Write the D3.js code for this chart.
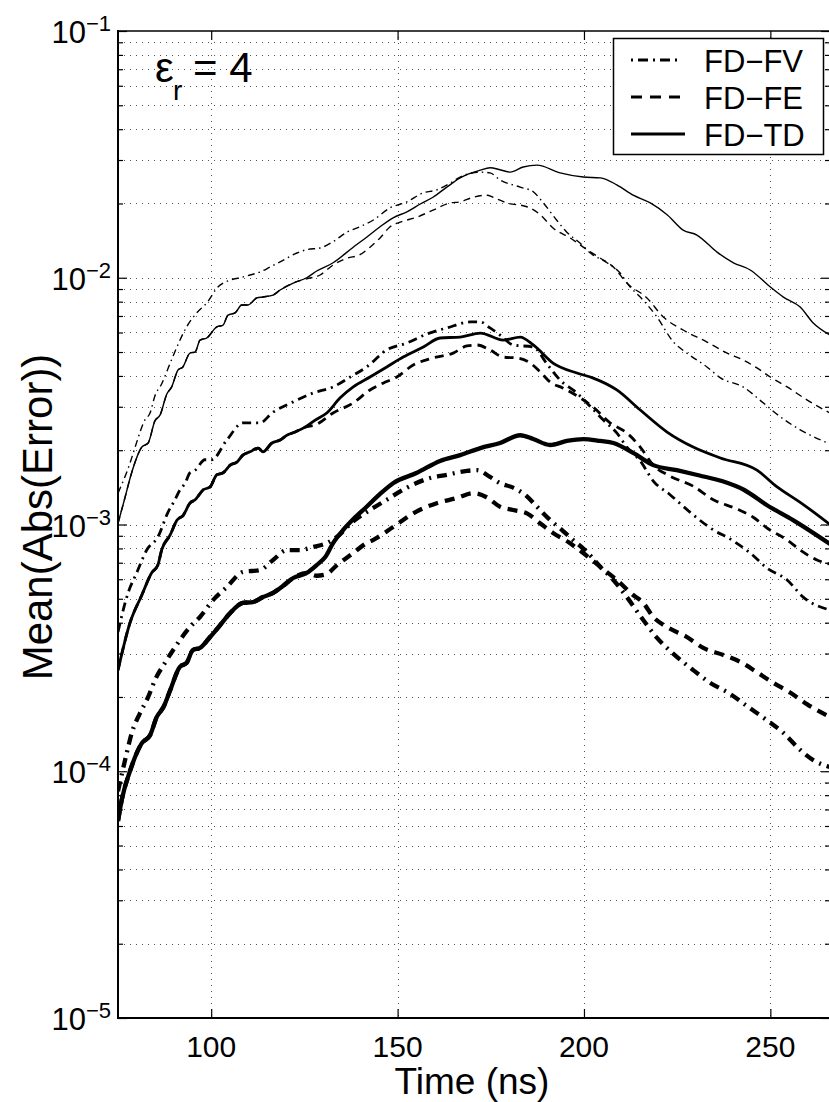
<!DOCTYPE html>
<html><head><meta charset="utf-8">
<script src="https://cdn.jsdelivr.net/npm/d3@7"></script>
<style>
body{margin:0;background:#fff;overflow:hidden;}
svg{display:block;}
text{font-family:"Liberation Sans",Arial,Helvetica,sans-serif;fill:#000;}
</style>
</head><body>
<svg id="chart" width="829" height="1102"></svg>
<script>
// ---------- data ----------
const xTicks = [100, 150, 200, 250];
const yMajor = [1e-5, 1e-4, 1e-3, 1e-2, 1e-1];
const yExpLabels = ["\u22125", "\u22124", "\u22123", "\u22122", "\u22121"];
const legendLabels = ["FD\u2212FV", "FD\u2212FE", "FD\u2212TD"];
const xLabel = "Time (ns)";
const yLabel = "Mean(Abs(Error))";

// thin group
const thinFV = [[75,1.34e-3],[78.2,1.77e-3],[79.6,2.06e-3],[82.2,2.65e-3],[83.6,2.83e-3],[84.9,3.32e-3],[86.7,3.71e-3],[89.0,4.51e-3],[90.8,5.24e-3],[93.4,6.32e-3],[96.1,7.2e-3],[98.8,7.9e-3],[101.8,9.17e-3],[105.1,9.79e-3],[107.7,1.0e-2],[110.4,1.026e-2],[113.1,1.055e-2],[115.8,1.105e-2],[118.5,1.16e-2],[123.0,1.26e-2],[125.6,1.30e-2],[129.2,1.32e-2],[132.7,1.40e-2],[136.4,1.53e-2],[139.9,1.61e-2],[143.4,1.71e-2],[148.0,1.92e-2],[152.5,2.03e-2],[156.9,2.21e-2],[160.5,2.27e-2],[164.1,2.42e-2],[166.8,2.56e-2],[172.2,2.68e-2],[174.8,2.66e-2],[177.5,2.49e-2],[182.9,2.33e-2],[186.4,2.23e-2],[189.1,2.01e-2],[192.7,1.71e-2],[195.4,1.53e-2],[199.0,1.38e-2],[201.7,1.26e-2],[206.2,1.15e-2],[209.7,1.045e-2],[212.4,9.17e-3],[215.1,8.35e-3],[219.6,6.93e-3],[224.0,5.49e-3],[227.6,4.95e-3],[233.0,4.35e-3],[236.6,3.93e-3],[242.7,3.61e-3],[248.1,3.11e-3],[252.7,2.73e-3],[258.0,2.42e-3],[266,2.12e-3]];
const thinFE = [[75,1.01e-3],[76.9,1.29e-3],[78.5,1.59e-3],[81.4,2.06e-3],[83.1,2.14e-3],[84.9,2.63e-3],[86.3,2.78e-3],[88.1,3.38e-3],[89.4,3.61e-3],[91.1,4.23e-3],[92.4,4.35e-3],[94.3,4.95e-3],[95.7,5.0e-3],[97.0,5.59e-3],[98.8,5.70e-3],[101.5,6.32e-3],[103.2,6.43e-3],[104.5,7.06e-3],[106.4,7.2e-3],[108.2,7.76e-3],[109.9,7.76e-3],[112.2,8.28e-3],[113.9,8.36e-3],[116.6,8.51e-3],[118.5,8.92e-3],[122.0,9.52e-3],[125.6,9.9e-3],[129.2,1.026e-2],[132.7,1.126e-2],[136.4,1.20e-2],[139.9,1.24e-2],[142.6,1.33e-2],[145.3,1.45e-2],[148.0,1.61e-2],[150.7,1.68e-2],[155.2,1.76e-2],[159.5,1.88e-2],[164.1,2.01e-2],[166.8,2.03e-2],[170.3,2.12e-2],[174.0,2.16e-2],[175.6,2.12e-2],[179.3,2.01e-2],[184.7,1.94e-2],[188.3,1.80e-2],[191.7,1.59e-2],[196.3,1.45e-2],[200.8,1.30e-2],[204.4,1.20e-2],[207.9,1.105e-2],[211.5,9.52e-3],[216.9,8.28e-3],[221.3,6.93e-3],[226.6,6.14e-3],[233.0,5.49e-3],[238.4,4.95e-3],[242.7,4.64e-3],[246.4,4.31e-3],[250.0,3.96e-3],[254.5,3.61e-3],[259.8,3.2e-3],[266,2.83e-3]];
const thinTD = [[75,1.01e-3],[76.9,1.29e-3],[78.5,1.59e-3],[81.4,2.06e-3],[83.1,2.14e-3],[84.9,2.63e-3],[86.3,2.78e-3],[88.1,3.38e-3],[89.4,3.61e-3],[91.1,4.23e-3],[92.4,4.35e-3],[94.3,4.95e-3],[95.7,5.0e-3],[97.0,5.59e-3],[98.8,5.70e-3],[101.5,6.32e-3],[103.2,6.43e-3],[104.5,7.06e-3],[106.4,7.2e-3],[108.2,7.76e-3],[109.9,7.76e-3],[112.2,8.28e-3],[113.9,8.36e-3],[116.6,8.51e-3],[118.5,8.92e-3],[122.0,9.52e-3],[125.6,1.0e-2],[128.3,1.065e-2],[132.7,1.15e-2],[138.1,1.33e-2],[141.7,1.46e-2],[145.3,1.61e-2],[148.8,1.75e-2],[152.5,1.85e-2],[156.1,1.99e-2],[159.5,2.12e-2],[163.2,2.33e-2],[166.8,2.54e-2],[172.2,2.73e-2],[174.8,2.79e-2],[177.5,2.74e-2],[180.2,2.68e-2],[183.7,2.81e-2],[187.4,2.86e-2],[193.6,2.66e-2],[199.8,2.56e-2],[204.4,2.54e-2],[208.8,2.38e-2],[213.2,2.16e-2],[217.8,2.01e-2],[222.3,1.80e-2],[226.6,1.56e-2],[230.3,1.49e-2],[235.7,1.27e-2],[240.1,1.15e-2],[244.6,1.075e-2],[250.0,9.17e-3],[253.5,8.35e-3],[258.0,7.61e-3],[261.5,6.56e-3],[266,5.86e-3]];

// medium group
const medFV = [[75,3.67e-4],[77.7,5.28e-4],[80.0,6.36e-4],[82.7,7.88e-4],[85.7,8.9e-4],[88.4,1.12e-3],[90.3,1.26e-3],[91.6,1.38e-3],[93.0,1.47e-3],[94.3,1.62e-3],[95.7,1.66e-3],[98.3,1.83e-3],[100.1,1.83e-3],[104.2,2.20e-3],[108.5,2.58e-3],[113.1,2.58e-3],[116.3,2.83e-3],[122.0,3.14e-3],[127.3,3.41e-3],[132.7,3.61e-3],[137.3,3.96e-3],[141.7,4.35e-3],[147.1,5.10e-3],[152.5,5.44e-3],[157.9,5.92e-3],[163.2,6.26e-3],[169.5,6.62e-3],[172.2,6.62e-3],[174.8,6.26e-3],[177.5,5.86e-3],[181.0,5.34e-3],[186.4,5.24e-3],[190.1,4.47e-3],[193.6,3.85e-3],[198.1,3.41e-3],[200.8,3.11e-3],[205.2,2.65e-3],[208.8,2.35e-3],[211.5,2.06e-3],[215.1,1.81e-3],[218.6,1.50e-3],[223.1,1.32e-3],[228.5,1.12e-3],[233.9,9.68e-4],[240.1,8.57e-4],[244.6,7.66e-4],[249.1,6.66e-4],[254.5,5.96e-4],[258.8,5.08e-4],[266,4.50e-4]];
const medFE = [[75,2.57e-4],[78.2,3.99e-4],[81.4,5.18e-4],[84.0,6.36e-4],[85.7,6.85e-4],[86.7,7.88e-4],[89.0,9.07e-4],[90.8,1.04e-3],[92.5,1.09e-3],[94.3,1.22e-3],[95.7,1.26e-3],[97.8,1.38e-3],[99.7,1.42e-3],[101.5,1.59e-3],[103.2,1.62e-3],[105.1,1.74e-3],[106.9,1.79e-3],[108.5,1.91e-3],[110.4,1.97e-3],[112.6,2.04e-3],[113.9,1.97e-3],[116.3,2.14e-3],[118.5,2.20e-3],[120.3,2.30e-3],[122.5,2.37e-3],[125.2,2.48e-3],[127.9,2.53e-3],[132.7,2.83e-3],[138.1,3.11e-3],[142.6,3.51e-3],[146.1,3.74e-3],[149.8,3.96e-3],[154.2,4.43e-3],[159.5,4.73e-3],[164.9,4.95e-3],[168.6,5.29e-3],[171.3,5.34e-3],[174.8,5.10e-3],[178.3,4.77e-3],[182.0,4.73e-3],[185.6,4.51e-3],[188.3,4.15e-3],[190.9,3.78e-3],[194.4,3.57e-3],[199.0,3.26e-3],[202.5,2.99e-3],[207.0,2.58e-3],[211.5,2.35e-3],[215.1,2.06e-3],[218.6,1.74e-3],[223.1,1.57e-3],[229.3,1.43e-3],[234.7,1.26e-3],[241.0,1.156e-3],[245.4,1.07e-3],[249.1,9.68e-4],[254.5,8.65e-4],[258.0,7.88e-4],[262.5,7.18e-4],[266,6.92e-4]];
const medTD = [[75,2.57e-4],[78.2,3.99e-4],[81.4,5.18e-4],[84.0,6.36e-4],[85.7,6.85e-4],[86.7,7.88e-4],[89.0,9.07e-4],[90.8,1.04e-3],[92.5,1.09e-3],[94.3,1.22e-3],[95.7,1.26e-3],[97.8,1.38e-3],[99.7,1.42e-3],[101.5,1.59e-3],[103.2,1.62e-3],[105.1,1.74e-3],[106.9,1.79e-3],[108.5,1.91e-3],[110.4,1.97e-3],[112.6,2.04e-3],[113.9,1.97e-3],[116.3,2.14e-3],[118.5,2.20e-3],[120.3,2.30e-3],[122.5,2.37e-3],[125.2,2.48e-3],[127.9,2.65e-3],[131.0,2.83e-3],[134.6,3.26e-3],[138.1,3.61e-3],[142.6,3.96e-3],[147.1,4.35e-3],[151.5,4.77e-3],[156.9,5.24e-3],[161.4,5.70e-3],[166.8,5.75e-3],[172.2,5.97e-3],[178.3,5.59e-3],[182.9,5.75e-3],[186.4,5.34e-3],[191.7,4.51e-3],[198.1,4.11e-3],[202.5,3.92e-3],[208.8,3.51e-3],[215.1,2.91e-3],[222.3,2.37e-3],[229.3,2.06e-3],[236.6,1.86e-3],[246.4,1.66e-3],[251.8,1.42e-3],[258.0,1.23e-3],[266,1.0e-3]];

// thick group
const thickFV = [[75,8.3e-5],[76.9,1.11e-4],[78.7,1.43e-4],[80.9,1.72e-4],[83.1,2.0e-4],[84.9,2.34e-4],[87.6,2.75e-4],[89.8,3.10e-4],[91.6,3.40e-4],[94.3,3.84e-4],[97.0,4.22e-4],[100.5,4.94e-4],[104.2,5.58e-4],[108.5,6.42e-4],[113.1,6.54e-4],[116.6,7.18e-4],[120.3,7.88e-4],[123.8,7.88e-4],[127.3,8.11e-4],[131.0,8.41e-4],[133.7,8.9e-4],[138.1,1.03e-3],[142.6,1.145e-3],[147.1,1.26e-3],[152.5,1.41e-3],[157.9,1.53e-3],[163.2,1.59e-3],[168.6,1.65e-3],[171.3,1.66e-3],[174.8,1.56e-3],[177.5,1.47e-3],[181.0,1.41e-3],[184.7,1.30e-3],[187.4,1.18e-3],[191.0,1.04e-3],[194.4,9.41e-4],[197.1,8.65e-4],[200.8,7.74e-4],[204.4,6.73e-4],[207.9,5.96e-4],[211.5,5.08e-4],[215.9,4.10e-4],[219.6,3.47e-4],[224.0,2.99e-4],[229.3,2.57e-4],[233.9,2.28e-4],[238.7,2.08e-4],[244.1,1.82e-4],[249.1,1.61e-4],[253.5,1.43e-4],[258.0,1.22e-4],[261.5,1.11e-4],[266,1.04e-4]];
const thickFE = [[75,6.29e-5],[76.0,7.65e-5],[78.2,1.0e-4],[81.4,1.30e-4],[83.6,1.40e-4],[85.4,1.66e-4],[87.2,1.82e-4],[89.0,2.13e-4],[91.6,2.65e-4],[93.4,2.75e-4],[95.1,3.10e-4],[97.0,3.16e-4],[99.7,3.50e-4],[102.4,3.91e-4],[105.1,4.38e-4],[108.5,4.81e-4],[111.2,4.85e-4],[113.9,5.08e-4],[116.6,5.28e-4],[118.9,5.58e-4],[122.0,6.07e-4],[125.6,6.36e-4],[128.3,6.2e-4],[131.0,6.3e-4],[133.5,6.8e-4],[138.1,7.66e-4],[141.7,8.41e-4],[143.4,8.65e-4],[148.8,9.77e-4],[154.2,1.11e-3],[160.5,1.22e-3],[165.9,1.28e-3],[170.3,1.34e-3],[173.9,1.29e-3],[177.5,1.18e-3],[181.0,1.145e-3],[184.7,1.11e-3],[188.3,1.01e-3],[191.7,9.24e-4],[195.8,8.49e-4],[199.8,7.66e-4],[204.4,6.73e-4],[208.8,5.96e-4],[213.2,5.18e-4],[215.9,4.81e-4],[218.6,4.22e-4],[222.3,3.84e-4],[227.6,3.50e-4],[232.0,3.16e-4],[237.4,2.96e-4],[242.0,2.77e-4],[246.4,2.52e-4],[250.8,2.28e-4],[255.4,2.08e-4],[259.8,1.87e-4],[266,1.66e-4]];
const thickTD = [[75,6.29e-5],[76.0,7.65e-5],[78.2,1.0e-4],[81.4,1.30e-4],[83.6,1.40e-4],[85.4,1.66e-4],[87.2,1.82e-4],[89.0,2.13e-4],[91.6,2.65e-4],[93.4,2.75e-4],[95.1,3.10e-4],[97.0,3.16e-4],[99.7,3.50e-4],[102.4,3.91e-4],[105.1,4.38e-4],[108.5,4.81e-4],[111.2,4.85e-4],[113.9,5.08e-4],[116.6,5.28e-4],[118.9,5.58e-4],[122.0,6.07e-4],[125.6,6.36e-4],[128.3,6.85e-4],[130.6,7.38e-4],[132.7,8.41e-4],[135.4,9.5e-4],[138.1,1.05e-3],[141.7,1.18e-3],[145.3,1.33e-3],[148.8,1.47e-3],[155.2,1.62e-3],[161.4,1.81e-3],[166.8,1.91e-3],[172.2,2.04e-3],[177.5,2.14e-3],[182.9,2.30e-3],[186.4,2.22e-3],[190.9,2.10e-3],[195.4,2.18e-3],[199.8,2.22e-3],[204.4,2.18e-3],[207.9,2.14e-3],[213.2,1.95e-3],[218.6,1.74e-3],[224.9,1.66e-3],[231.0,1.58e-3],[237.0,1.50e-3],[243.0,1.38e-3],[249.0,1.20e-3],[256.2,1.04e-3],[266,8.34e-4]];

// ---------- layout ----------
const svg = d3.select("#chart");
const L = 118, R = 830, T = 31, B = 1018;
const x = d3.scaleLinear().domain([75, 266]).range([L, R]);
const y = d3.scaleLog().domain([1e-5, 1e-1]).range([B, T]);

const yMinor = [];
for (let k = -5; k <= -2; k++) for (let f = 2; f <= 9; f++) yMinor.push(f * Math.pow(10, k));

// grid
const grid = svg.append("g").attr("stroke", "#555").attr("stroke-width", 1).attr("stroke-dasharray", "1,5").attr("fill", "none");
grid.selectAll("line.h").data(yMinor.concat(yMajor.slice(1, 4))).join("line").attr("class", "h")
  .attr("x1", L).attr("x2", R).attr("y1", d => Math.round(y(d)) + 0.5).attr("y2", d => Math.round(y(d)) + 0.5);
grid.selectAll("line.v").data(xTicks).join("line").attr("class", "v")
  .attr("y1", T).attr("y2", B).attr("x1", d => Math.round(x(d)) + 0.5).attr("x2", d => Math.round(x(d)) + 0.5);

// lines
svg.append("defs").append("clipPath").attr("id", "clip").append("rect")
  .attr("x", L).attr("y", T).attr("width", R - L).attr("height", B - T);
const line = d3.line().x(d => x(d[0])).y(d => y(d[1])).curve(d3.curveMonotoneX);
const series = [
  {d: thinFV, w: 1.4, dash: "7,4,1.5,4"},
  {d: thinFE, w: 1.4, dash: "7,5"},
  {d: thinTD, w: 1.4, dash: null},
  {d: medFV, w: 2.8, dash: "9,5,2,5"},
  {d: medFE, w: 2.8, dash: "9,6"},
  {d: medTD, w: 2.8, dash: null},
  {d: thickFV, w: 4.3, dash: "10,6,2,6"},
  {d: thickFE, w: 4.3, dash: "10,7"},
  {d: thickTD, w: 4.3, dash: null}
];
const lg = svg.append("g").attr("clip-path", "url(#clip)");
lg.selectAll("path").data(series).join("path")
  .attr("d", s => line(s.d)).attr("fill", "none").attr("stroke", "#000")
  .attr("stroke-width", s => s.w).attr("stroke-dasharray", s => s.dash)
  .attr("stroke-linejoin", "round");

// frame (right border lies just beyond the picture edge) + ticks
const ax = svg.append("g").attr("stroke", "#000").attr("fill", "none").attr("stroke-width", 2);
ax.append("line").attr("x1", L).attr("x2", L).attr("y1", T - 1).attr("y2", B + 1);
ax.append("line").attr("x1", L).attr("x2", R + 2).attr("y1", T).attr("y2", T).attr("stroke-width", 1.6);
ax.append("line").attr("x1", L).attr("x2", R + 2).attr("y1", B).attr("y2", B);
ax.append("line").attr("x1", R + 1.5).attr("x2", R + 1.5).attr("y1", T).attr("y2", B);

svg.append("g").attr("transform", `translate(${L},0)`)
  .call(d3.axisRight(y).tickValues(yMajor.concat(yMinor)).tickFormat("").tickSizeOuter(0))
  .call(g => g.select(".domain").remove())
  .call(g => g.selectAll(".tick line").attr("x2", d => yMajor.includes(d) ? 9 : 5).attr("stroke-width", 1.2));
svg.append("g").attr("transform", `translate(${R},0)`)
  .call(d3.axisLeft(y).tickValues(yMajor.concat(yMinor)).tickFormat("").tickSizeOuter(0))
  .call(g => g.select(".domain").remove())
  .call(g => g.selectAll(".tick line").attr("x2", d => yMajor.includes(d) ? -9 : -5).attr("stroke-width", 1.2));
svg.append("g").attr("transform", `translate(0,${B})`)
  .call(d3.axisTop(x).tickValues(xTicks).tickFormat("").tickSize(9).tickSizeOuter(0))
  .call(g => g.select(".domain").remove()).call(g => g.selectAll(".tick line").attr("stroke-width", 1.2));
svg.append("g").attr("transform", `translate(0,${T})`)
  .call(d3.axisBottom(x).tickValues(xTicks).tickFormat("").tickSize(9).tickSizeOuter(0))
  .call(g => g.select(".domain").remove()).call(g => g.selectAll(".tick line").attr("stroke-width", 1.2));

// tick labels
svg.selectAll("text.xt").data(xTicks).join("text").attr("class", "xt")
  .attr("x", d => x(d)).attr("y", 1057).attr("text-anchor", "middle").attr("font-size", 30).text(d => d);
const yt = svg.selectAll("text.yt").data(yMajor).join("text").attr("class", "yt")
  .attr("x", 111).attr("y", d => y(d) + 12).attr("text-anchor", "end").attr("font-size", 31);
yt.append("tspan").text("10");
yt.append("tspan").attr("font-size", 22).attr("dy", -12).text((d, i) => yExpLabels[i]);

// axis labels
svg.append("text").attr("x", 472).attr("y", 1094).attr("text-anchor", "middle").attr("font-size", 37).text(xLabel);
svg.append("text").attr("transform", "translate(52,517) rotate(-90)").attr("text-anchor", "middle").attr("font-size", 42).text(yLabel);

// epsilon annotation
svg.append("text").attr("x", 155).attr("y", 82).attr("font-size", 42).text("\u03b5");
svg.append("text").attr("x", 173).attr("y", 100).attr("font-size", 28).text("r");
svg.append("text").attr("x", 193).attr("y", 82).attr("font-size", 42).text("= 4");

// legend
const leg = svg.append("g");
leg.append("rect").attr("x", 613.5).attr("y", 38.5).attr("width", 210).attr("height", 116)
  .attr("fill", "#fff").attr("stroke", "#000").attr("stroke-width", 1.5);
const legDash = ["2,5,10,5", "11,8", null];
const legX2 = [679, 680, 685];
const legY = [60, 97, 134];
legendLabels.forEach((lab, i) => {
  leg.append("line").attr("x1", 631).attr("x2", legX2[i]).attr("y1", legY[i]).attr("y2", legY[i])
    .attr("stroke", "#000").attr("stroke-width", 3.2).attr("stroke-dasharray", legDash[i]);
  leg.append("text").attr("x", 704).attr("y", legY[i] + 12).attr("font-size", 31).text(lab);
});
</script>
</body></html>
